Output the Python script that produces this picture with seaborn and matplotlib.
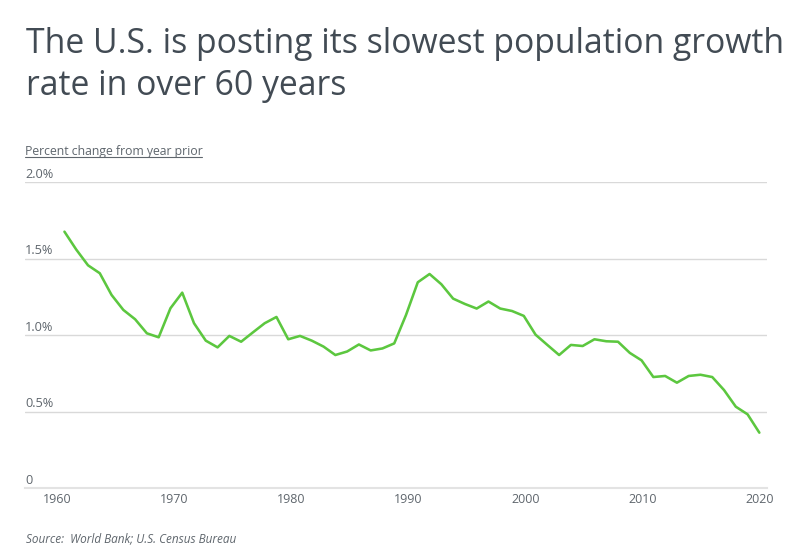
import pandas as pd
import matplotlib
matplotlib.use('Agg')
import matplotlib.pyplot as plt
from matplotlib.lines import Line2D
from matplotlib.transforms import ScaledTranslation
import seaborn as sns

years = list(range(1961, 2021))
growth = [1.677, 1.56, 1.457, 1.405, 1.263, 1.165, 1.104, 1.012, 0.986, 1.176,
          1.278, 1.078, 0.964, 0.92, 0.995, 0.957, 1.018, 1.078, 1.119, 0.973,
          0.995, 0.964, 0.925, 0.87, 0.893, 0.939, 0.90, 0.913, 0.946, 1.132,
          1.346, 1.40, 1.333, 1.239, 1.204, 1.174, 1.22, 1.174, 1.158, 1.126,
          1.003, 0.936, 0.87, 0.936, 0.929, 0.973, 0.96, 0.957, 0.884, 0.835,
          0.726, 0.733, 0.689, 0.733, 0.741, 0.726, 0.641, 0.532, 0.482, 0.362]
x_ticks = [1960, 1970, 1980, 1990, 2000, 2010, 2020]
y_ticks = [0, 0.5, 1.0, 1.5, 2.0]
y_labels = ['0', '0.5%', '1.0%', '1.5%', '2.0%']

title = 'The U.S. is posting its slowest population growth\nrate in over 60 years'
subtitle = 'Percent change from year prior'
source = 'Source:  World Bank; U.S. Census Bureau'

sns.set_style('white')
plt.rcParams['font.family'] = ['Open Sans', 'DejaVu Sans']

W, H = 800, 558
fig = plt.figure(figsize=(W / 100, H / 100), dpi=100)
ax = fig.add_axes([25 / W, 1 - 488 / H, 742 / W, 305.7 / H])

df = pd.DataFrame({'year': years, 'growth': growth})
sns.lineplot(data=df, x='year', y='growth', color='#5CC73F', linewidth=1.85, ax=ax)

ax.set_xlim(1957.65, 2020.65)
ax.set_ylim(0, 2)
ax.set_xlabel('')
ax.set_ylabel('')
sns.despine(ax=ax, left=True, top=True, right=True)
ax.spines['bottom'].set_color('#E3E3E3')
ax.spines['bottom'].set_linewidth(1.5)
ax.yaxis.grid(True, color='#D9D9D9', linewidth=1)
ax.set_axisbelow(True)

ax.set_xticks(x_ticks)
ax.set_yticks(y_ticks)
ax.set_yticklabels(y_labels)
ax.tick_params(axis='x', length=0, pad=3.5, labelsize=9, labelcolor='#5F666D')
ax.tick_params(axis='y', length=0, pad=0, labelsize=9.2, labelcolor='#5F666D')

# y labels sit just above their gridlines
shift = ScaledTranslation(0, 1 / 72, fig.dpi_scale_trans)
for lab in ax.get_yticklabels():
    lab.set_ha('left')
    lab.set_va('bottom')
    lab.set_transform(lab.get_transform() + shift)

# x labels run a little off the data scale, about 4.5px right at 1960, none at 2020
for lab, yr in zip(ax.get_xticklabels(), x_ticks):
    dx = 4.5 * (2020 - yr) / 60 / 100
    lab.set_transform(lab.get_transform() + ScaledTranslation(dx, 0, fig.dpi_scale_trans))

fig.text(25.5 / W, 1 - 95 / H, title, fontsize=24.3, color='#424B54',
         ha='left', va='baseline', linespacing=1.32)
fig.text(25 / W, 1 - 154.5 / H, subtitle, fontsize=8.8, color='#5F666D', ha='left', va='baseline')
fig.add_artist(Line2D([25 / W, 202 / W], [1 - 156.5 / H] * 2, color='#5F666D', linewidth=0.8))
fig.text(26 / W, 1 - 542 / H, source, fontsize=8.5, style='italic', color='#5F666D',
         ha='left', va='baseline')

fig.savefig('out.png', dpi=100)
